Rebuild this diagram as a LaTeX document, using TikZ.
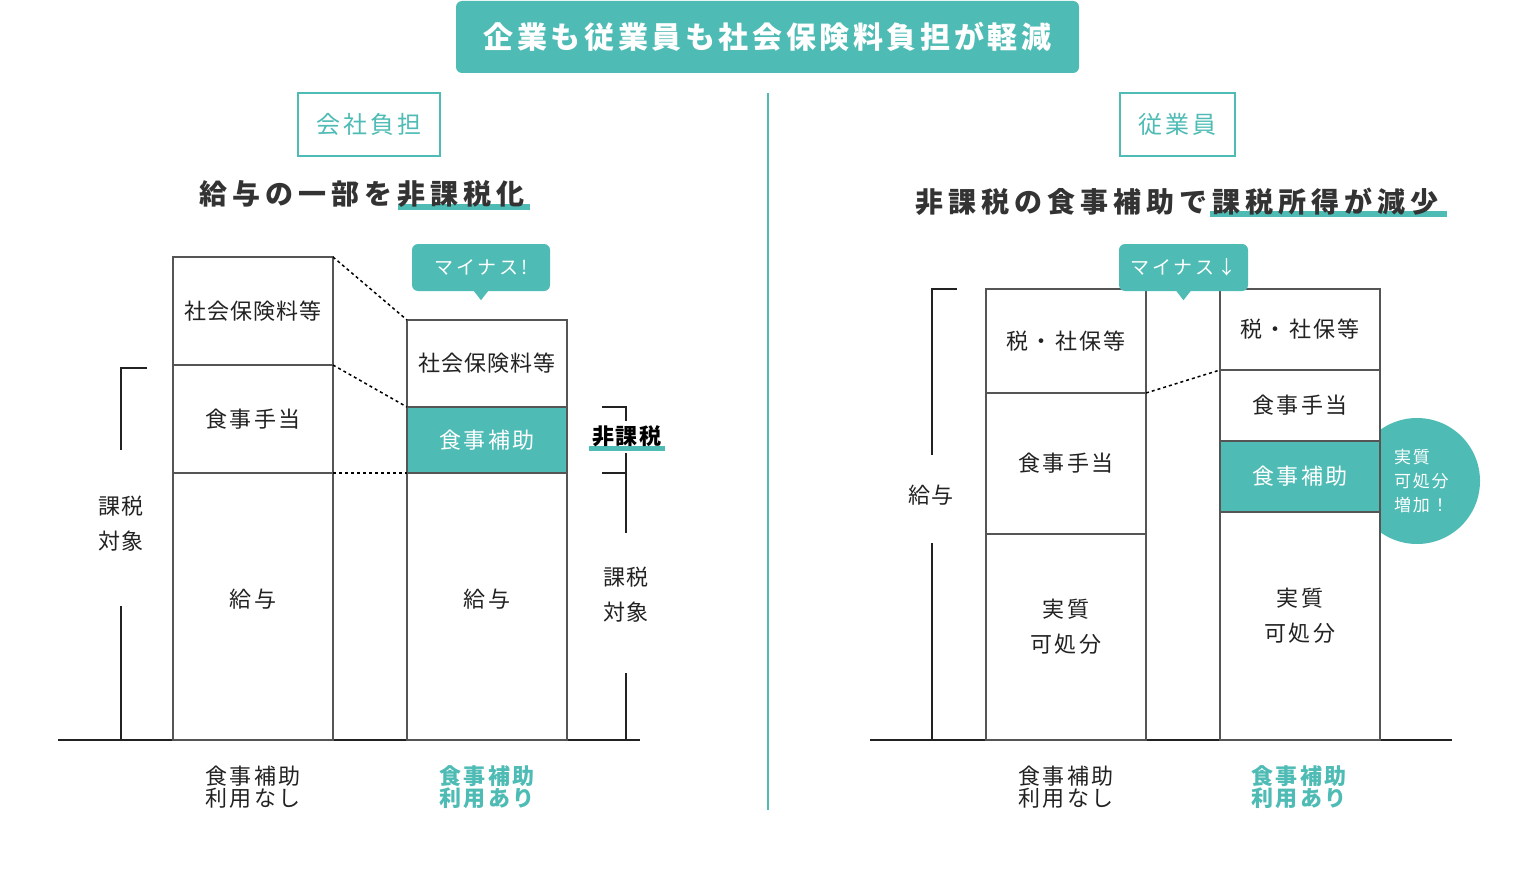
\documentclass[tikz,border=0pt]{standalone}
\usepackage{fontspec}
\setmainfont{Noto Sans CJK JP}
\usepackage{tikz}
\usetikzlibrary{calc}
\definecolor{figteal}{RGB}{78,187,181}
\definecolor{figink}{RGB}{34,34,34}
\definecolor{figdark}{RGB}{51,51,51}
\definecolor{figline}{RGB}{85,85,85}
\newcommand{\jpfont}[3]{\fontsize{#1}{#2}\selectfont\addfontfeatures{LetterSpace=#3}}
\tikzset{
  segbox/.style  ={draw=figline,line width=1.5pt,fill=white,inner sep=0pt,outer sep=0pt,
                   minimum width=160,align=center,text=figink,font=\jpfont{22}{35}{11}},
  subseg/.style  ={fill=figteal,text=white},
  tightlab/.style={font=\jpfont{22}{35}{4}},
  lifted/.style  ={text depth=16pt},
  dotline/.style ={line width=1.5pt,black,dash pattern=on 3pt off 3pt},
  brk/.style     ={line width=1.5pt,figink},
  floor/.style   ={line width=1.6pt,figink},
  sidelab/.style ={inner sep=0pt,align=center,text=figink,font=\jpfont{22}{35}{9}},
  footlab/.style ={inner sep=0pt,align=center,text=figink,font=\jpfont{22}{22}{11}},
  foothi/.style  ={footlab,text=figteal,font=\bfseries\jpfont{22}{22}{11}},
  bubble/.style  ={fill=figteal,rounded corners=6pt,text=white,inner sep=0pt,
                   minimum height=47,font=\jpfont{19}{20}{16}},
  tagbox/.style  ={draw=figteal,line width=1.5pt,text=figteal,inner sep=0pt,
                   minimum height=63,font=\jpfont{24}{26}{12}},
  heading/.style ={inner sep=0pt,text=figdark,font=\bfseries\jpfont{28}{32}{18}},
  banner/.style  ={fill=figteal,rounded corners=6pt,text=white,inner sep=0pt,
                   minimum width=623,minimum height=72,font=\bfseries\jpfont{30}{32}{12}},
}
% one segment of a stacked bar: name, centre x, top y, bottom y, extra style, text
\newcommand{\barseg}[6]{%
  \pgfmathsetmacro{\segh}{#4-#3}%
  \pgfmathsetmacro{\segy}{(#3+#4)/2}%
  \node[segbox,#5,minimum height=\segh] (#1) at (#2,\segy) {#6};
}
\begin{document}
\begin{tikzpicture}[x=1pt,y=-1pt]
  \useasboundingbox (0,0) rectangle (1536,869);
  % title band and divider
  \node[banner] (top) at (767.5,37) {企業も従業員も社会保険料負担が軽減};
  \draw[figteal,line width=1.2pt] (768,93) -- (768,810);
  % tags and headings
  \node[tagbox,minimum width=142] (t1) at (369,124.5) {会社負担};
  \node[tagbox,minimum width=115] (t2) at (1177.5,124.5) {従業員};
  \fill[figteal] (398,204) rectangle (530,210);
  \fill[figteal] (1210,211) rectangle (1447,217);
  \node[heading] (h1) at (362,194) {給与の一部を非課税化};
  \node[heading] (h2) at (1177,202) {非課税の食事補助で課税所得が減少};

  % left: company side
  \draw[floor] (58,740) -- (640,740);
  \barseg{a1}{253}{257}{365}{tightlab}{社会保険料等}
  \barseg{a2}{253}{365}{473}{}{食事手当}
  \barseg{a3}{253}{473}{740}{lifted}{給与}
  \barseg{b1}{487}{320}{407}{tightlab}{社会保険料等}
  \barseg{b2}{487}{407}{473}{subseg}{食事補助}
  \barseg{b3}{487}{473}{740}{lifted}{給与}
  \draw[dotline] (a1.north east) -- (b1.north west);
  \draw[dotline] (a2.north east) -- (b2.north west);
  \draw[dotline] (a3.north east) -- (b3.north west);
  \node[bubble,minimum width=138] (m1) at (481,267.5) {マイナス!};
  \fill[figteal] ([xshift=-7pt]m1.south) -- ([xshift=7pt]m1.south) -- ([yshift=-9pt]m1.south) -- cycle;
  \draw[brk] (147,368) -- (121,368) -- (121,450);
  \draw[brk] (121,606) -- (121,740);
  \node[sidelab] (k1) at (121,524) {課税\\対象};
  \draw[brk] (602,407) -- (626,407) -- (626,421);
  \fill[figteal] (589,446) rectangle (665,451);
  \node[inner sep=0pt,text=black,font=\bfseries\jpfont{22}{24}{6}] (n1) at (627,436) {非課税};
  \draw[brk] (626,453) -- (626,533);
  \draw[brk] (602,473) -- (626,473);
  \node[sidelab] (k2) at (626,595) {課税\\対象};
  \draw[brk] (626,673) -- (626,740);
  \node[footlab] (f1) at (253,787) {食事補助\\利用なし};
  \node[foothi] (f2) at (487,787) {食事補助\\利用あり};

  % right: employee side
  \draw[floor] (870,740) -- (1452,740);
  \node[circle,fill=figteal,inner sep=0pt,minimum size=126] (q1) at (1417,481) {};
  \barseg{c1}{1066}{289}{393}{}{税・社保等}
  \barseg{c2}{1066}{393}{534}{}{食事手当}
  \barseg{c3}{1066}{534}{740}{text depth=22pt}{実質\\可処分}
  \barseg{d1}{1300}{289}{370}{}{税・社保等}
  \barseg{d2}{1300}{370}{441}{}{食事手当}
  \barseg{d3}{1300}{441}{512}{subseg}{食事補助}
  \barseg{d4}{1300}{512}{740}{text depth=22pt}{実質\\可処分}
  \draw[dotline] (c2.north east) -- (d2.north west);
  \node[inner sep=0pt,anchor=west,align=left,text=white,font=\jpfont{17}{24}{10}] (q2) at (1394,481) {実質\\可処分\\増加！};
  \node[bubble,minimum width=129] (m2) at (1183.5,267.5) {マイナス↓};
  \fill[figteal] ([xshift=-7pt]m2.south) -- ([xshift=7pt]m2.south) -- ([yshift=-9pt]m2.south) -- cycle;
  \draw[brk] (957,289) -- (932,289) -- (932,455);
  \draw[brk] (932,543) -- (932,740);
  \node[sidelab] (k3) at (931,495) {給与};
  \node[footlab] (f3) at (1066,787) {食事補助\\利用なし};
  \node[foothi] (f4) at (1299,787) {食事補助\\利用あり};
\end{tikzpicture}
\end{document}
